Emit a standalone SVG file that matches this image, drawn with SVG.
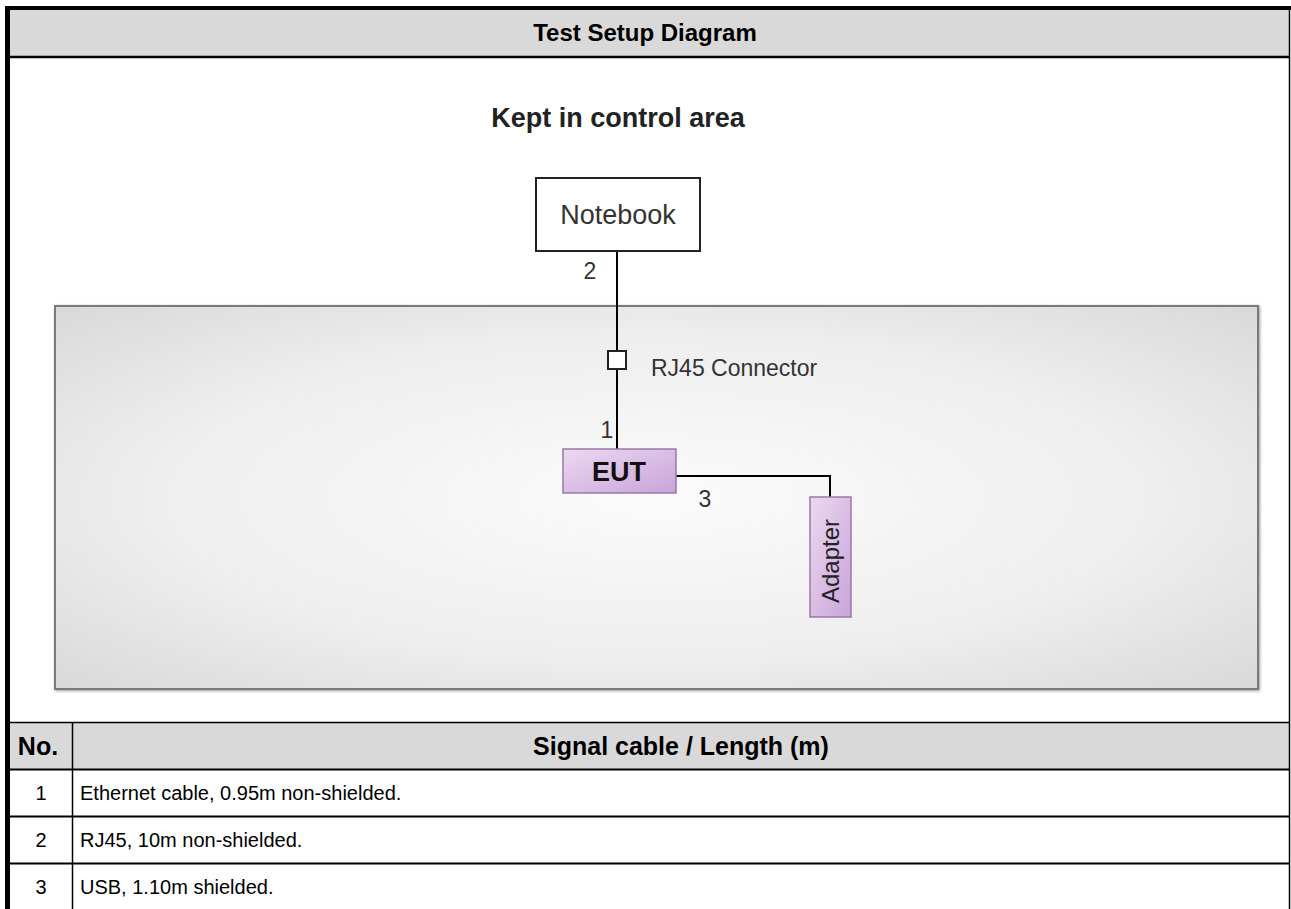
<svg xmlns="http://www.w3.org/2000/svg" width="1291" height="909" viewBox="0 0 1291 909">
<defs>
<radialGradient id="area" cx="0.5" cy="0.5" r="0.7">
<stop offset="0" stop-color="#fbfbfb"/>
<stop offset="0.6" stop-color="#eeeeee"/>
<stop offset="1" stop-color="#d9d9d9"/>
</radialGradient>
<linearGradient id="purp" x1="0" y1="0" x2="1" y2="1">
<stop offset="0" stop-color="#ecd9f1"/>
<stop offset="1" stop-color="#c9a3d9"/>
</linearGradient>
<filter id="sh" x="-5%" y="-5%" width="110%" height="110%">
<feGaussianBlur in="SourceAlpha" stdDeviation="1.5"/>
<feOffset dx="1" dy="1"/>
<feComponentTransfer><feFuncA type="linear" slope="0.4"/></feComponentTransfer>
<feMerge><feMergeNode/><feMergeNode in="SourceGraphic"/></feMerge>
</filter>
</defs>
<style>
.hd{font-family:"Liberation Sans",Arial,sans-serif;font-weight:bold;fill:#000}
.td{font-family:"Liberation Sans",Arial,sans-serif;fill:#000}
.lb{font-family:"Liberation Sans",Arial,sans-serif;fill:#333}
.ln{stroke:#000;stroke-width:2;fill:none}
</style>
<rect width="1291" height="909" fill="#fff"/>
<g id="table">
<rect x="10" y="10" width="1279" height="46" fill="#d9d9d9"/>
<rect x="10" y="722" width="1279" height="47" fill="#d9d9d9"/>
<line x1="5" y1="8" x2="1291" y2="8" stroke="#000" stroke-width="4"/>
<line x1="7.5" y1="6" x2="7.5" y2="909" stroke="#000" stroke-width="5"/>
<line x1="1289.5" y1="8" x2="1289.5" y2="909" stroke="#000" stroke-width="1.5"/>
<line x1="10" y1="57" x2="1290" y2="57" stroke="#000" stroke-width="2.5"/>
<line x1="10" y1="722.5" x2="1290" y2="722.5" stroke="#000" stroke-width="1.5"/>
<line x1="10" y1="769.5" x2="1290" y2="769.5" stroke="#000" stroke-width="2"/>
<line x1="10" y1="816.5" x2="1290" y2="816.5" stroke="#000" stroke-width="2"/>
<line x1="10" y1="863.5" x2="1290" y2="863.5" stroke="#000" stroke-width="2"/>
<line x1="72.5" y1="722" x2="72.5" y2="909" stroke="#000" stroke-width="1.5"/>
<text class="hd" x="645" y="41" text-anchor="middle" font-size="24">Test Setup Diagram</text>
<text class="hd" x="38" y="755" text-anchor="middle" font-size="25">No.</text>
<text class="hd" x="681" y="755" text-anchor="middle" font-size="25">Signal cable / Length (m)</text>
<text class="td" x="41" y="800" text-anchor="middle" font-size="20">1</text>
<text class="td" x="80" y="800" font-size="20">Ethernet cable, 0.95m non-shielded.</text>
<text class="td" x="41" y="847" text-anchor="middle" font-size="20">2</text>
<text class="td" x="80" y="847" font-size="20">RJ45, 10m non-shielded.</text>
<text class="td" x="41" y="894" text-anchor="middle" font-size="20">3</text>
<text class="td" x="80" y="894" font-size="20">USB, 1.10m shielded.</text>
</g>
<g id="control-area">
<rect x="55" y="306" width="1203" height="383" fill="url(#area)" stroke="#7a7a7a" stroke-width="2" filter="url(#sh)"/>
</g>
<text x="618" y="127" text-anchor="middle" font-family="Liberation Sans, Arial, sans-serif" font-weight="bold" font-size="27" fill="#222">Kept in control area</text>
<g id="connectors">
<line x1="617" y1="251" x2="617" y2="350" class="ln"/>
<line x1="617" y1="370" x2="617" y2="449" class="ln"/>
<polyline points="676,476 830,476 830,497" class="ln"/>
<text class="lb" x="590" y="279" text-anchor="middle" font-size="23">2</text>
<text class="lb" x="607" y="438" text-anchor="middle" font-size="23">1</text>
<text class="lb" x="705" y="507" text-anchor="middle" font-size="23">3</text>
</g>
<g id="notebook">
<rect x="536" y="178" width="164" height="73" fill="#fff" stroke="#222" stroke-width="2"/>
<text class="lb" x="618" y="224" text-anchor="middle" fill="#444" font-size="27">Notebook</text>
</g>
<g id="rj45">
<rect x="608" y="351" width="18" height="18" fill="#fff" stroke="#222" stroke-width="2"/>
<text class="lb" x="651" y="376" fill="#444" font-size="23">RJ45 Connector</text>
</g>
<g id="eut">
<rect x="563" y="449" width="113" height="44" fill="url(#purp)" stroke="#9a78a8" stroke-width="1.5"/>
<text x="619" y="481" text-anchor="middle" font-family="Liberation Sans, Arial, sans-serif" font-weight="bold" font-size="27" fill="#111">EUT</text>
</g>
<g id="adapter">
<rect x="810" y="497" width="41" height="120" fill="url(#purp)" stroke="#9a78a8" stroke-width="1.5"/>
<text x="0" y="0" transform="translate(839,561) rotate(-90)" text-anchor="middle" font-family="Liberation Sans, Arial, sans-serif" font-size="24" fill="#222">Adapter</text>
</g>
</svg>
